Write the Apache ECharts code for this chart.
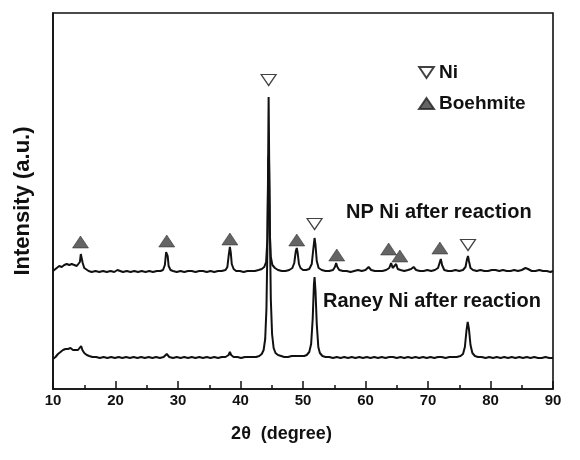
<!DOCTYPE html>
<html>
<head>
<meta charset="utf-8">
<script src="https://cdn.jsdelivr.net/npm/echarts@6/dist/echarts.min.js"></script>
<style>
  html, body { margin: 0; padding: 0; background: #fff; }
  #chart { width: 580px; height: 460px; }
</style>
</head>
<body>
<div id="chart"></div>
<script>
// XRD patterns, 2θ in degrees vs. intensity (arbitrary units, traces offset)
const xTicks = [10, 20, 30, 40, 50, 60, 70, 80, 90];

const npNiTrace = [
  [10.0,118],[10.3,120],[10.6,121],[11.0,123],[11.4,122],[11.8,124],[12.2,125],[12.6,124],[13.0,125],[13.4,124],[13.8,123],[14.1,123],
  [14.3,127],[14.45,135],[14.6,134],[14.75,126],[15.0,121],[15.3,119],[15.7,118],[16.2,117],[16.8,118],[17.4,117],[18.0,118],[18.6,117],
  [19.2,118],[19.8,117],[20.3,119],[20.6,118],[21.2,117],[21.8,118],[22.4,117],[23.0,118],[23.6,117],[24.2,118],[24.8,117],[25.4,118],
  [26.0,117],[26.6,118],[27.2,118],[27.6,119],[27.9,124],[28.1,137],[28.2,139],[28.35,133],[28.5,123],[28.8,119],[29.2,118],[29.8,117],
  [30.4,118],[31.0,117],[31.6,118],[32.2,118],[32.8,117],[33.4,118],[34.0,118],[34.6,117],[35.2,118],[35.8,117],[36.4,118],[37.0,118],
  [37.6,119],[37.9,122],[38.1,133],[38.3,142],[38.45,136],[38.6,125],[38.9,120],[39.3,118],[39.9,118],[40.5,117],[41.1,118],[41.7,118],
  [42.3,118],[42.9,119],[43.4,120],[43.8,122],[44.1,127],[44.3,150],[44.4,210],[44.5,292],[44.6,220],[44.7,155],[44.85,132],[45.1,124],
  [45.5,121],[46.0,119],[46.6,118],[47.2,118],[47.8,119],[48.3,121],[48.6,126],[48.85,138],[49.0,141],[49.15,136],[49.35,125],[49.6,121],
  [50.0,119],[50.5,119],[51.0,120],[51.4,125],[51.65,140],[51.85,151],[52.0,144],[52.2,128],[52.5,121],[53.0,119],[53.6,118],[54.2,118],
  [54.8,119],[55.1,122],[55.3,126],[55.5,122],[55.8,119],[56.4,118],[57.0,118],[57.6,117],[58.2,118],[58.8,119],[59.4,118],[60.0,119],
  [60.5,122],[60.9,119],[61.5,118],[62.1,118],[62.7,118],[63.3,119],[63.8,121],[64.1,126],[64.35,121],[64.6,122],[64.9,125],[65.15,120],
  [65.6,119],[66.2,118],[66.8,119],[67.3,120],[67.7,122],[68.1,119],[68.7,118],[69.3,118],[69.9,119],[70.5,118],[71.1,119],[71.6,121],
  [71.9,127],[72.05,130],[72.25,124],[72.6,119],[73.2,118],[73.8,118],[74.4,119],[75.0,118],[75.6,119],[76.0,122],[76.25,130],[76.4,133],
  [76.55,128],[76.8,121],[77.2,119],[77.8,118],[78.4,119],[79.0,118],[79.6,118],[80.2,119],[80.8,119],[81.4,118],[82.0,119],[82.6,118],
  [83.2,118],[83.8,119],[84.4,118],[85.0,119],[85.6,121],[86.0,120],[86.6,118],[87.2,118],[87.8,119],[88.4,118],[89.0,118],[89.6,117],[90.0,118]
];

const raneyNiTrace = [
  [10.0,30],[10.4,32],[10.8,35],[11.2,37],[11.6,39],[12.0,40],[12.4,40],[12.8,41],[13.2,39],[13.6,39],[14.0,39],[14.3,40],[14.5,43],
  [14.7,39],[15.0,36],[15.4,34],[15.8,33],[16.3,32],[16.9,32],[17.5,31],[18.1,32],[18.7,31],[19.3,32],[19.9,31],[20.5,32],[21.1,31],
  [21.7,32],[22.3,31],[22.9,32],[23.5,31],[24.1,32],[24.7,31],[25.3,32],[25.9,31],[26.5,32],[27.1,31],[27.7,32],[28.2,35],[28.6,32],
  [29.2,31],[29.8,32],[30.4,31],[31.0,32],[31.6,31],[32.2,32],[32.8,31],[33.4,32],[34.0,31],[34.6,32],[35.2,31],[35.8,32],[36.4,31],
  [37.0,32],[37.6,32],[38.1,34],[38.3,37],[38.5,34],[38.9,32],[39.5,32],[40.1,31],[40.7,32],[41.3,32],[41.9,32],[42.5,32],[43.0,33],
  [43.4,35],[43.7,39],[43.95,50],[44.15,80],[44.3,140],[44.45,230],[44.55,235],[44.7,160],[44.85,90],[45.05,55],[45.3,41],[45.6,36],
  [46.0,34],[46.5,33],[47.0,32],[47.6,32],[48.2,33],[48.7,33],[49.0,35],[49.3,33],[49.7,33],[50.2,33],[50.6,34],[51.0,37],[51.3,45],
  [51.55,70],[51.75,105],[51.85,112],[52.0,98],[52.2,65],[52.45,42],[52.7,36],[53.1,33],[53.6,32],[54.2,32],[54.8,31],[55.4,32],[56.0,31],
  [56.6,32],[57.2,31],[57.8,32],[58.4,31],[59.0,32],[59.6,31],[60.2,32],[60.8,31],[61.4,32],[62.0,31],[62.6,32],[63.2,31],[63.8,32],
  [64.4,32],[65.0,31],[65.6,32],[66.2,31],[66.8,32],[67.4,31],[68.0,32],[68.6,31],[69.2,32],[69.8,31],[70.4,32],[71.0,31],[71.6,32],
  [72.2,32],[72.8,31],[73.4,32],[74.0,32],[74.6,32],[75.2,33],[75.6,35],[75.9,42],[76.15,58],[76.35,67],[76.55,60],[76.8,44],[77.1,36],
  [77.5,33],[78.0,32],[78.6,32],[79.2,31],[79.8,32],[80.4,31],[81.0,32],[81.6,31],[82.2,32],[82.8,31],[83.4,32],[84.0,31],[84.6,32],
  [85.2,31],[85.8,32],[86.4,31],[87.0,32],[87.6,31],[88.2,31],[88.8,32],[89.4,31],[90.0,31]
];

// Peak assignments (marker placed just above each reflection)
const niPeaks = [[44.5, 309], [51.85, 165], [76.4, 144]];
const boehmitePeaks = [[14.4, 147], [28.2, 148], [38.3, 150], [49.0, 149], [55.4, 134], [63.7, 140], [65.5, 133], [71.9, 141]];

const sampleLabels = ['NP Ni after reaction', 'Raney Ni after reaction'];

const FONT = '"Liberation Sans", Arial, Helvetica, sans-serif';
const DOWN_TRIANGLE = 'path://M0,0 L20,0 L10,15 Z';

const chart = echarts.init(document.getElementById('chart'), null, { renderer: 'canvas' });

chart.setOption({
  animation: false,
  backgroundColor: '#fff',
  grid: {
    left: 53, right: 27, top: 13, bottom: 71,
    show: true, borderColor: '#111', borderWidth: 1.6, backgroundColor: 'transparent'
  },
  xAxis: {
    type: 'value',
    min: xTicks[0], max: xTicks[xTicks.length - 1], interval: 10,
    name: '2\u03b8  (degree)',
    nameLocation: 'middle',
    nameGap: 36,
    nameTextStyle: { fontFamily: FONT, fontSize: 18, fontWeight: 'bold', color: '#111', padding: [0, 43, 0, 0] },
    axisLine: { show: true, lineStyle: { color: '#111', width: 1.6 } },
    axisTick: { show: true, inside: true, length: 8, lineStyle: { color: '#111', width: 1.5 } },
    minorTick: { show: true, splitNumber: 2, length: 4, lineStyle: { color: '#111', width: 1.5 } },
    axisLabel: { margin: 4, fontFamily: FONT, fontSize: 15, fontWeight: 'bold', color: '#111' },
    splitLine: { show: false }
  },
  yAxis: {
    type: 'value',
    min: 0, max: 376,
    name: 'Intensity (a.u.)',
    nameLocation: 'middle',
    nameGap: 19,
    nameTextStyle: { fontFamily: FONT, fontSize: 22, fontWeight: 'bold', color: '#111' },
    axisLine: { show: true, lineStyle: { color: '#111', width: 1.6 } },
    axisTick: { show: false },
    axisLabel: { show: false },
    splitLine: { show: false }
  },
  legend: {
    data: [{ name: 'Ni', icon: DOWN_TRIANGLE }, { name: 'Boehmite', icon: 'triangle' }],
    orient: 'vertical',
    left: 413, top: 58,
    itemWidth: 15, itemHeight: 11, itemGap: 12,
    textStyle: { fontFamily: FONT, fontSize: 19, fontWeight: 'bold', color: '#111' }
  },
  graphic: [
    { type: 'text', left: 346, top: 202, style: { text: sampleLabels[0], fontFamily: FONT, fontSize: 20, fontWeight: 'bold', fill: '#111' } },
    { type: 'text', left: 323, top: 291, style: { text: sampleLabels[1], fontFamily: FONT, fontSize: 20, fontWeight: 'bold', fill: '#111' } }
  ],
  series: [
    {
      name: sampleLabels[0], type: 'line', data: npNiTrace,
      showSymbol: false, symbol: 'none', lineStyle: { color: '#111', width: 2 }, z: 3
    },
    {
      name: sampleLabels[1], type: 'line', data: raneyNiTrace,
      showSymbol: false, symbol: 'none', lineStyle: { color: '#111', width: 2 }, z: 2
    },
    {
      name: 'Ni', type: 'scatter', data: niPeaks,
      symbol: 'triangle', symbolRotate: 180, symbolSize: [15, 11],
      itemStyle: { color: '#fff', borderColor: '#111', borderWidth: 1.2 }, z: 5
    },
    {
      name: 'Boehmite', type: 'scatter', data: boehmitePeaks,
      symbol: 'triangle', symbolSize: [16, 12],
      itemStyle: { color: '#3d3d3d', borderColor: '#222', borderWidth: 0.6 }, z: 5
    }
  ]
});
</script>
</body>
</html>
